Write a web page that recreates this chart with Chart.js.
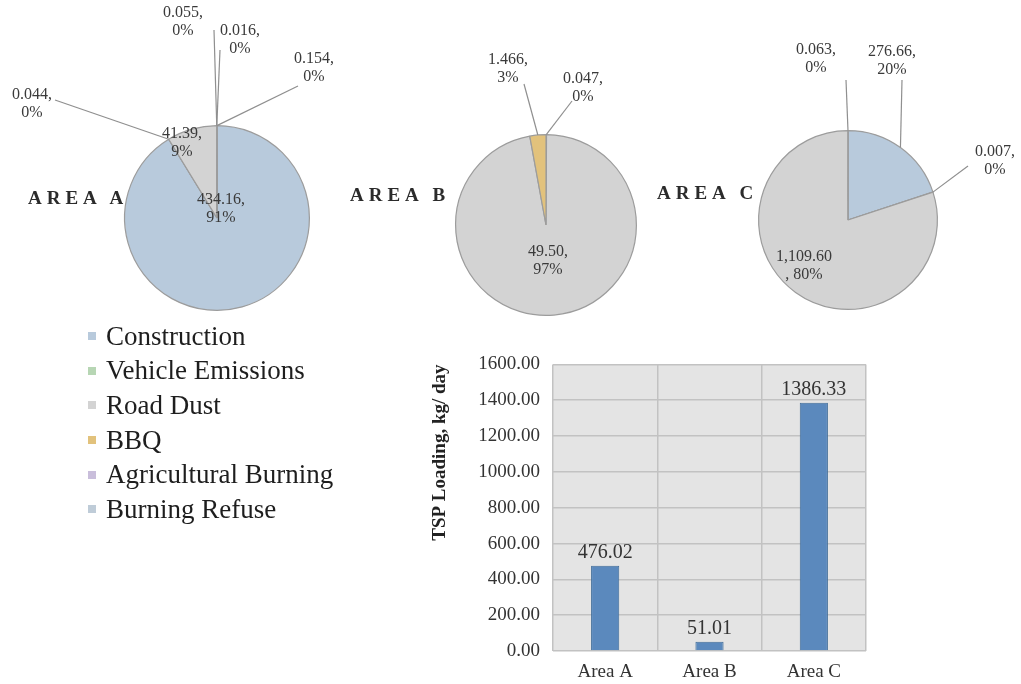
<!DOCTYPE html>
<html>
<head>
<meta charset="utf-8">
<script src="https://cdn.jsdelivr.net/npm/chart.js@4.4.0/dist/chart.umd.min.js"></script>
<style>
body { margin: 0; background: #fff; width: 1021px; height: 684px; overflow: hidden; position: relative; font-family: "Liberation Serif", "Times New Roman", serif; }
.box { position: absolute; }
.area { position: absolute; font-weight: bold; font-size: 19px; letter-spacing: 5px; line-height: 20px; color: #2b2b2b; }
#legend { position: absolute; left: 88px; top: 319px; }
.leg { height: 34.6px; font-size: 27px; color: #1e1e1e; display: flex; align-items: center; }
.sw { width: 8px; height: 8px; margin-right: 10px; }
</style>
</head>
<body>
<div class="box" style="left:0;top:0;width:340px;height:330px"><canvas id="pieA"></canvas></div>
<div class="box" style="left:340px;top:0;width:320px;height:330px"><canvas id="pieB"></canvas></div>
<div class="box" style="left:660px;top:0;width:361px;height:330px"><canvas id="pieC"></canvas></div>
<div class="area" style="left:28px;top:188px">AREA A</div>
<div class="area" style="left:350px;top:185px">AREA B</div>
<div class="area" style="left:657px;top:183px">AREA C</div>
<div id="legend"></div>
<div class="box" style="left:420px;top:340px;width:460px;height:344px"><canvas id="bars"></canvas></div>
<script>
const SOURCES = ['Construction', 'Vehicle Emissions', 'Road Dust', 'BBQ', 'Agricultural Burning', 'Burning Refuse'];
const AREA_A = [434.16, 0.044, 41.39, 0.055, 0.016, 0.154];
const AREA_B = [0, 0.047, 49.50, 1.466, 0, 0];
const AREA_C = [276.66, 0.007, 1109.60, 0, 0, 0.063];
const AREAS = ['Area A', 'Area B', 'Area C'];
const TSP_LOADING = [476.02, 51.01, 1386.33];

const COLORS = ['#b8cadc', '#b7d6b4', '#d3d3d3', '#e2c27c', '#c9bedb', '#bfccd8'];
const SERIF = '"Liberation Serif", "Times New Roman", serif';

// label placement relative to pie centre (dx,dy = text block, lead = leader line start)
const LABELS_A = [
    { i: 0, dx: 4, dy: -9 },
    { i: 1, dx: -185, dy: -114, lead: [-162, -118] },
    { i: 2, dx: -35, dy: -75 },
    { i: 3, dx: -34, dy: -196, lead: [-3, -188] },
    { i: 4, dx: 23, dy: -178, lead: [3, -168] },
    { i: 5, dx: 97, dy: -150, lead: [81, -132] }
];
const LABELS_B = [
    { i: 1, dx: 37, dy: -137, lead: [26, -124] },
    { i: 2, dx: 2, dy: 36 },
    { i: 3, dx: -38, dy: -156, lead: [-22, -141] }
];
const LABELS_C = [
    { i: 0, dx: 44, dy: -159, lead: [54, -140] },
    { i: 1, dx: 147, dy: -59, lead: [120, -54] },
    { i: 2, dx: -44, dy: 46, wrap: true },
    { i: 5, dx: -32, dy: -161, lead: [-2, -140] }
];

const pieLabels = {
    id: 'pieLabels',
    afterDatasetsDraw(chart, args, opts) {
        const ctx = chart.ctx;
        const meta = chart.getDatasetMeta(0);
        const values = chart.data.datasets[0].data;
        const total = values.reduce((a, b) => a + b, 0);
        ctx.save();
        ctx.font = '16px ' + SERIF;
        ctx.fillStyle = '#3a3a3a';
        ctx.textAlign = 'center';
        ctx.textBaseline = 'middle';
        opts.items.forEach(it => {
            const arc = meta.data[it.i];
            const v = values[it.i];
            const num = v.toLocaleString('en-US', { minimumFractionDigits: 2, maximumFractionDigits: 3 });
            const pct = Math.round(v / total * 100) + '%';
            const lines = it.wrap ? [num, ', ' + pct] : [num + ',', pct];
            if (it.lead) {
                const mid = (arc.startAngle + arc.endAngle) / 2;
                ctx.strokeStyle = '#8f8f8f';
                ctx.lineWidth = 1.2;
                ctx.beginPath();
                ctx.moveTo(arc.x + it.lead[0], arc.y + it.lead[1]);
                ctx.lineTo(arc.x + Math.cos(mid) * arc.outerRadius, arc.y + Math.sin(mid) * arc.outerRadius);
                ctx.stroke();
            }
            ctx.fillText(lines[0], arc.x + it.dx, arc.y + it.dy - 9);
            ctx.fillText(lines[1], arc.x + it.dx, arc.y + it.dy + 9);
        });
        ctx.restore();
    }
};

function makePie(id, values, labels, pad) {
    new Chart(document.getElementById(id), {
        type: 'pie',
        data: { labels: SOURCES, datasets: [{ data: values, backgroundColor: COLORS, borderColor: '#9c9c9c', borderWidth: 1.2 }] },
        options: {
            responsive: true, maintainAspectRatio: false, animation: false,
            layout: { padding: pad },
            plugins: { legend: { display: false }, tooltip: { enabled: false }, pieLabels: { items: labels } }
        },
        plugins: [pieLabels]
    });
}

makePie('pieA', AREA_A, LABELS_A, { left: 124, right: 30, top: 125, bottom: 19 });
makePie('pieB', AREA_B, LABELS_B, { left: 115, right: 23, top: 134, bottom: 14 });
makePie('pieC', AREA_C, LABELS_C, { left: 98, right: 83, top: 130, bottom: 20 });

const legend = document.getElementById('legend');
SOURCES.forEach((s, i) => {
    legend.insertAdjacentHTML('beforeend', `<div class="leg"><span class="sw" style="background:${COLORS[i]}"></span>${s}</div>`);
});

const plotBg = {
    id: 'plotBg',
    beforeDraw(chart) {
        const { ctx, chartArea: a } = chart;
        ctx.save();
        ctx.fillStyle = '#e4e4e4';
        ctx.fillRect(a.left, a.top, a.right - a.left, a.bottom - a.top);
        ctx.restore();
    }
};

const barLabels = {
    id: 'barLabels',
    afterDatasetsDraw(chart) {
        const ctx = chart.ctx;
        const meta = chart.getDatasetMeta(0);
        ctx.save();
        ctx.font = '20px ' + SERIF;
        ctx.fillStyle = '#333';
        ctx.textAlign = 'center';
        ctx.textBaseline = 'bottom';
        meta.data.forEach((bar, i) => {
            ctx.fillText(TSP_LOADING[i].toFixed(2), bar.x, bar.y - 3);
        });
        ctx.restore();
    }
};

new Chart(document.getElementById('bars'), {
    type: 'bar',
    data: {
        labels: AREAS,
        datasets: [{ data: TSP_LOADING, backgroundColor: '#5b89bd', borderColor: '#3f6c98', borderWidth: 1, barPercentage: 0.54, categoryPercentage: 0.5 }]
    },
    options: {
        responsive: true, maintainAspectRatio: false, animation: false,
        layout: { padding: { left: 5, right: 14, top: 23, bottom: 0 } },
        plugins: { legend: { display: false }, tooltip: { enabled: false } },
        scales: {
            x: {
                grid: { color: '#c2c2c2', lineWidth: 1.5, drawTicks: false, offset: true },
                border: { display: false },
                ticks: { color: '#333', font: { family: SERIF, size: 19 }, padding: 10 },
                afterFit(s) { s.height = 33; }
            },
            y: {
                min: 0, max: 1600,
                grid: { color: '#c2c2c2', lineWidth: 1.5, drawTicks: false },
                border: { display: false },
                ticks: { stepSize: 200, color: '#333', font: { family: SERIF, size: 19 }, padding: 13, callback: v => v.toFixed(2) },
                title: { display: true, align: 'end', text: 'TSP Loading, kg/ day', color: '#222', font: { family: SERIF, size: 19, weight: 'bold' } },
                afterFit(s) { s.width = 128; }
            }
        }
    },
    plugins: [plotBg, barLabels]
});
</script>
</body>
</html>
